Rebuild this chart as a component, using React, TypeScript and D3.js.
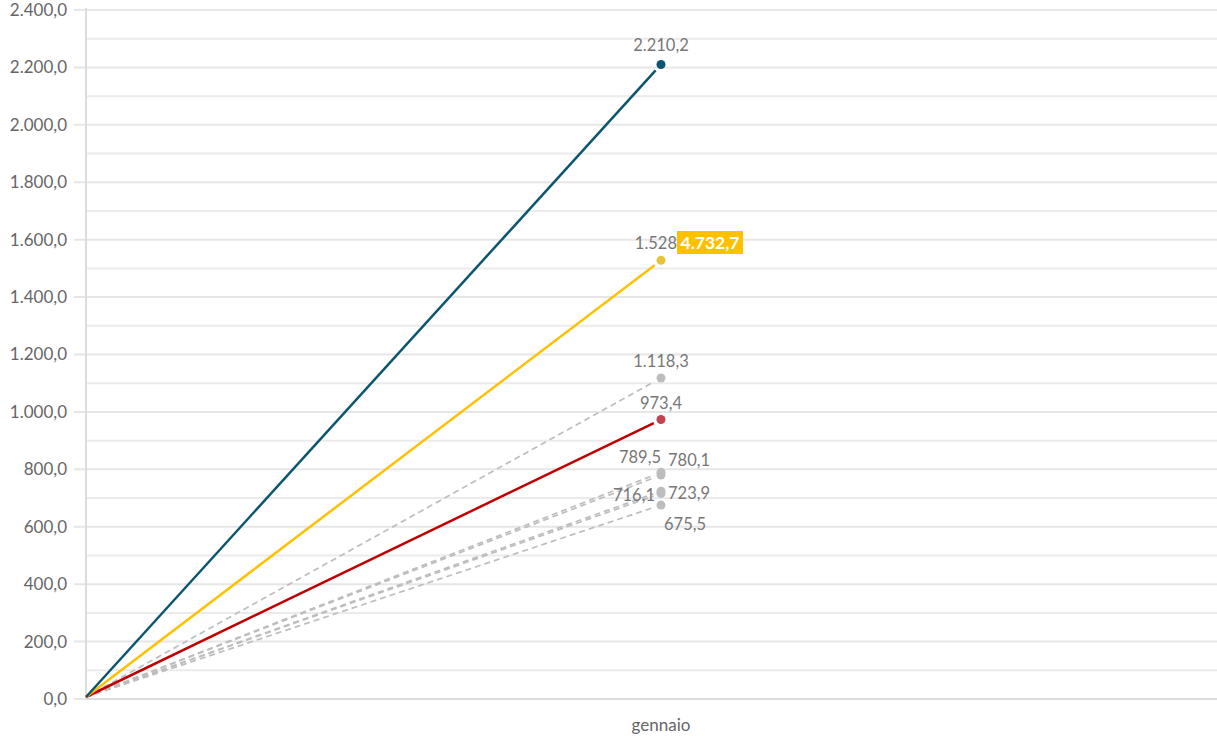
import React from "react";
import * as d3 from "d3";

const categories = ["", "gennaio", " "];
const seriesNames = ["A", "B", "C", "D", "E", "F", "G", "H", "I"];
const seriesValues = [2210.2, 1528, 1118.3, 973.4, 789.5, 780.1, 723.9, 716.1, 675.5];
const seriesLabels = ["2.210,2", "1.528", "1.118,3", "973,4", "789,5", "780,1", "723,9", "716,1", "675,5"];
const seriesColors = ["#0b5570", "#ffc000", "#bdbdbd", "#c00000", "#bdbdbd", "#bdbdbd", "#bdbdbd", "#bdbdbd", "#bdbdbd"];
const dotColors = ["#0b5570", "#e8c23a", "#bdbdbd", "#c0434f", "#bdbdbd", "#bdbdbd", "#bdbdbd", "#bdbdbd", "#bdbdbd"];
const dashed = [false, false, true, false, true, true, true, true, true];
// label placement: anchor, dx, dy
const labelPos: [string, number, number][] = [
  ["middle", 0, -13],
  ["end", 16, -11],
  ["middle", 0, -11],
  ["middle", 0, -11],
  ["end", 0, -9],
  ["start", 7, -9],
  ["start", 7, 8],
  ["end", -6, 8],
  ["start", 3, 25],
];
const highlightLabel = "4.732,7";
const yTicks = d3.range(0, 2401, 200);
const yMinor = d3.range(100, 2400, 200);

const W = 1217, H = 736;
const left = 86, right = 1217, top = 10, bottom = 699;

export default function App() {
  const x = d3.scalePoint<string>().domain(categories).range([left, 1236]);
  const y = d3.scaleLinear().domain([0, 2400]).range([bottom, top]);
  const fmt = (v: number) => d3.format(",.1f")(v).replace(/,/g, "#").replace(".", ",").replace(/#/g, ".");
  const font = "'Source Sans Pro', Lato, 'Open Sans', sans-serif";
  const x0 = x("")!;
  const x1 = x("gennaio")!;
  return (
    <svg width={W} height={H} style={{ position: "absolute", left: 0, top: 0, background: "#fff" }} fontFamily={font}>
      {yMinor.map((t) => (
        <line key={"m" + t} x1={left} x2={right} y1={y(t)} y2={y(t)} stroke="#ebebeb" strokeWidth={2} />
      ))}
      {yTicks.map((t) => (
        <g key={t}>
          <line x1={74} x2={right} y1={y(t)} y2={y(t)} stroke="#e6e6e6" strokeWidth={2} />
          <text x={67} y={y(t)} dy="0.35em" textAnchor="end" fontSize={17} fill="#666">{fmt(t)}</text>
        </g>
      ))}
      <line x1={left} x2={left} y1={8} y2={bottom} stroke="#dcdcdc" strokeWidth={2} />
      <line x1={left} x2={right} y1={bottom} y2={bottom} stroke="#dcdcdc" strokeWidth={2} />
      <text x={x1} y={731} textAnchor="middle" fontSize={17} fill="#666">gennaio</text>
      {[2, 4, 5, 6, 7, 8, 3, 1, 0].map((i) => {
        const ex = x1, ey = y(seriesValues[i]);
        const sx = x0, sy = y(0) - 2;
        const len = Math.hypot(ex - sx, ey - sy);
        const k = (len - 8) / len;
        return (
          <line key={"l" + i} x1={sx} y1={sy} x2={sx + (ex - sx) * k} y2={sy + (ey - sy) * k}
            stroke={seriesColors[i]} strokeWidth={dashed[i] ? 1.7 : 2.5}
            strokeDasharray={dashed[i] ? "6,4" : undefined} />
        );
      })}
      {seriesNames.map((n, i) => (
        <circle key={"c" + i} cx={x1} cy={y(seriesValues[i])} r={4.5} fill={dotColors[i]} />
      ))}
      {seriesNames.map((n, i) => {
        const [a, dx, dy] = labelPos[i];
        return (
          <text key={"t" + i} x={x1 + dx} y={y(seriesValues[i]) + dy} textAnchor={a as any}
            fontSize={16.5} fill="#777">{seriesLabels[i]}</text>
        );
      })}
      <rect x={677} y={231} width={66} height={23} fill="#ffc000" />
      <text x={710} y={249} textAnchor="middle" fontSize={17.5} fontWeight="bold" fill="#fff">{highlightLabel}</text>
    </svg>
  );
}
